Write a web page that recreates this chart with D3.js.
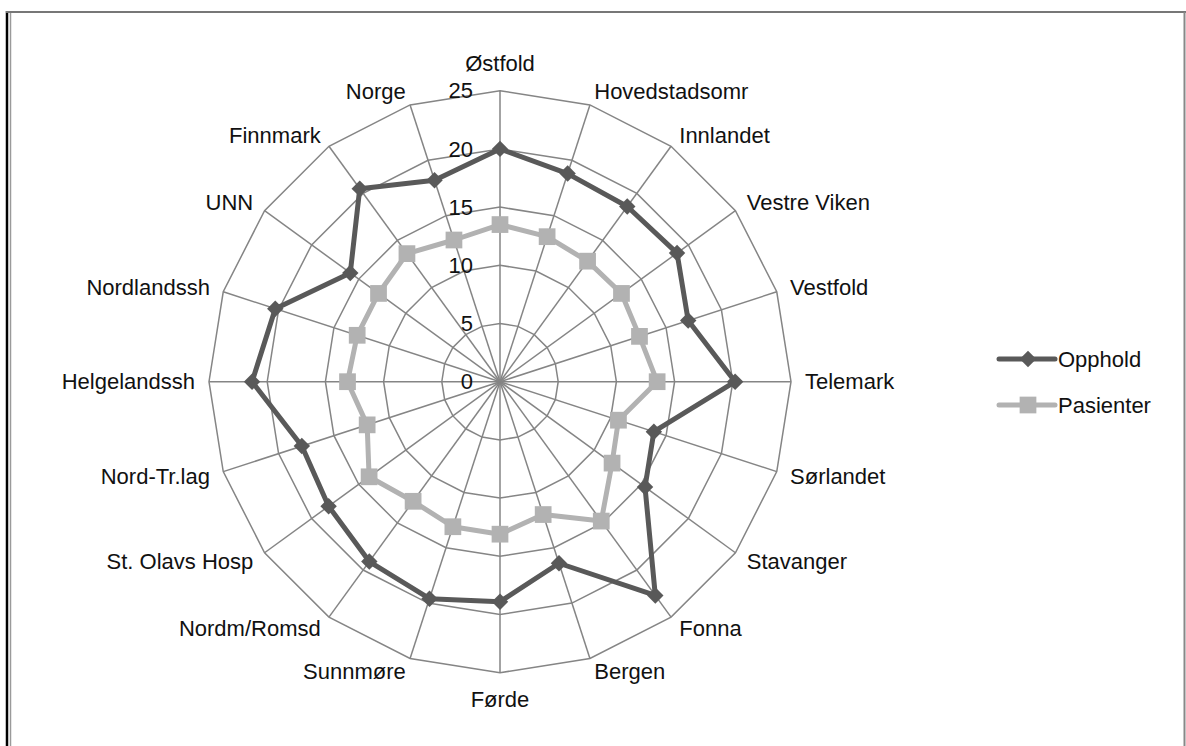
<!DOCTYPE html>
<html>
<head>
<meta charset="utf-8">
<script src="https://cdn.jsdelivr.net/npm/d3@7"></script>
<style>
  html, body { margin: 0; padding: 0; background: #fff; }
  svg { display: block; font-family: "Liberation Sans", Arial, sans-serif; }
</style>
</head>
<body>
<div id="chart"></div>
<script>
const categories = ['Østfold', 'Hovedstadsomr', 'Innlandet', 'Vestre Viken', 'Vestfold',
  'Telemark', 'Sørlandet', 'Stavanger', 'Fonna', 'Bergen', 'Førde', 'Sunnmøre',
  'Nordm/Romsd', 'St. Olavs Hosp', 'Nord-Tr.lag', 'Helgelandssh', 'Nordlandssh',
  'UNN', 'Finnmark', 'Norge'];

const opphold = [20.0, 18.8, 18.6, 18.8, 17.0, 20.2, 13.9, 15.4, 22.7, 16.4,
  18.9, 19.6, 19.1, 18.2, 17.9, 21.3, 20.3, 15.9, 20.5, 18.2];

const pasienter = [13.5, 13.1, 12.8, 12.9, 12.6, 13.5, 10.7, 11.9, 14.8, 12.0,
  13.1, 13.1, 12.7, 13.9, 12.0, 13.1, 12.9, 12.9, 13.6, 12.8];

const ticks = [0, 5, 10, 15, 20, 25];

const series = [
  { name: 'Opphold', values: opphold, color: '#595959', marker: 'diamond' },
  { name: 'Pasienter', values: pasienter, color: '#b2b2b2', marker: 'square' }
];

const width = 1186,
      height = 746,
      cx = 500,
      cy = 381.7,
      radius = 291;

const svg = d3.select('#chart')
  .append('svg')
  .attr('width', width)
  .attr('height', height);

// chart frame
svg.append('line').attr('x1', 7).attr('x2', 7).attr('y1', 11).attr('y2', height)
  .attr('stroke', '#000').attr('stroke-width', 2.5);
svg.append('line').attr('x1', 10.5).attr('x2', 10.5).attr('y1', 13).attr('y2', height)
  .attr('stroke', '#9a9a9a').attr('stroke-width', 1.5);
svg.append('line').attr('x1', 6).attr('x2', 1186).attr('y1', 12).attr('y2', 12)
  .attr('stroke', '#777').attr('stroke-width', 2);
svg.append('line').attr('x1', 1184.5).attr('x2', 1184.5).attr('y1', 12).attr('y2', height)
  .attr('stroke', '#888').attr('stroke-width', 2);

const r = d3.scaleLinear().domain([0, 25]).range([0, radius]);
const angle = d3.scalePoint().domain(categories).range([0, 2 * Math.PI * (categories.length - 1) / categories.length]);

const g = svg.append('g').attr('transform', `translate(${cx},${cy})`);

const px = (c, v) => r(v) * Math.sin(angle(c));
const py = (c, v) => -r(v) * Math.cos(angle(c));

// rings
const ring = d3.lineRadial()
  .angle(d => angle(d))
  .curve(d3.curveLinearClosed);

g.selectAll('.ring')
  .data(ticks.filter(t => t > 0))
  .enter().append('path')
    .attr('class', 'ring')
    .attr('d', t => ring.radius(r(t))(categories))
    .attr('fill', 'none')
    .attr('stroke', '#858585')
    .attr('stroke-width', 1.5);

// spokes
g.selectAll('.spoke')
  .data(categories)
  .enter().append('line')
    .attr('class', 'spoke')
    .attr('x1', 0).attr('y1', 0)
    .attr('x2', c => px(c, 25))
    .attr('y2', c => py(c, 25))
    .attr('stroke', '#858585')
    .attr('stroke-width', 1.5);

// tick labels
g.selectAll('.tick')
  .data(ticks)
  .enter().append('text')
    .attr('class', 'tick')
    .attr('x', -27)
    .attr('y', t => -r(t))
    .attr('dy', '0.35em')
    .attr('text-anchor', 'end')
    .attr('font-size', 22)
    .attr('fill', '#111')
    .text(t => t);

// category labels
g.selectAll('.cat')
  .data(categories)
  .enter().append('text')
    .attr('class', 'cat')
    .attr('x', c => (radius + 14) * Math.sin(angle(c)))
    .attr('y', c => {
      const s = Math.sin(angle(c)), k = Math.cos(angle(c));
      const base = -(radius + 14) * k;
      return Math.abs(s) < 0.01 ? base - 13 * k : base;
    })
    .attr('dy', '0.35em')
    .attr('text-anchor', c => {
      const s = Math.sin(angle(c));
      return s > 0.01 ? 'start' : (s < -0.01 ? 'end' : 'middle');
    })
    .attr('font-size', 22)
    .attr('fill', '#111')
    .text(c => c);

// diamonds are squares turned 45 degrees
const markerPath = m => m === 'diamond'
  ? d3.symbol().type(d3.symbolSquare).size(135)()
  : d3.symbol().type(d3.symbolSquare).size(280)();
const markerRot = m => m === 'diamond' ? ' rotate(45)' : '';

const valueLine = d3.lineRadial()
  .angle(d => angle(d.cat))
  .radius(d => r(d.v))
  .curve(d3.curveLinearClosed);

series.forEach(s => {
  const pts = categories.map((c, i) => ({ cat: c, v: s.values[i] }));
  g.append('path')
    .attr('d', valueLine(pts))
    .attr('fill', 'none')
    .attr('stroke', s.color)
    .attr('stroke-width', 5)
    .attr('stroke-linejoin', 'round');

  g.selectAll(null)
    .data(pts)
    .enter().append('path')
      .attr('transform', d => `translate(${px(d.cat, d.v)},${py(d.cat, d.v)})${markerRot(s.marker)}`)
      .attr('d', markerPath(s.marker))
      .attr('fill', s.color);
});

// legend
const legend = svg.append('g')
  .selectAll('g')
  .data(series)
  .enter().append('g')
    .attr('transform', (d, i) => `translate(999,${359 + i * 46})`);

legend.append('line')
  .attr('x1', 0).attr('x2', 56)
  .attr('stroke', d => d.color)
  .attr('stroke-width', 5)
  .attr('stroke-linecap', 'round');

legend.append('path')
  .attr('transform', d => `translate(29,0)${markerRot(d.marker)}`)
  .attr('d', d => markerPath(d.marker))
  .attr('fill', d => d.color);

legend.append('text')
  .attr('x', 59)
  .attr('dy', '0.35em')
  .attr('font-size', 22)
  .attr('fill', '#111')
  .text(d => d.name);
</script>
</body>
</html>
